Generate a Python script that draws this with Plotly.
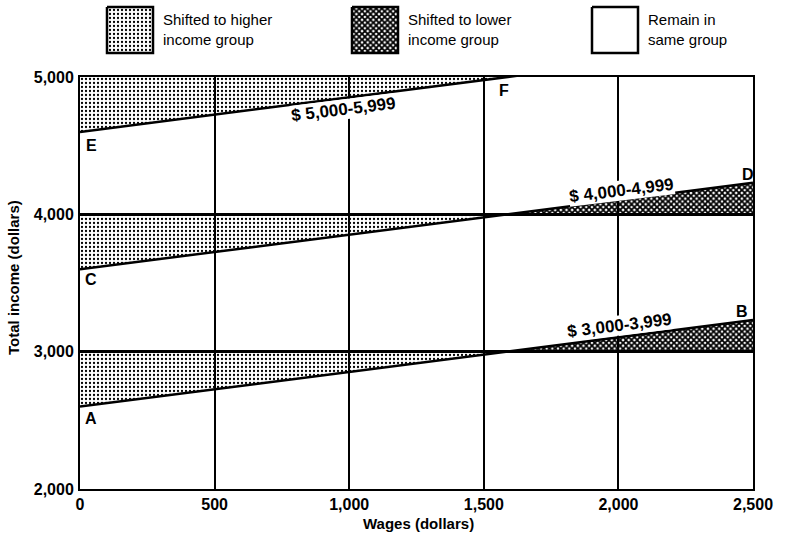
import plotly.graph_objects as go

# ---------------- data ----------------
wages = [0, 2500]                      # wage range (dollars)
group_floor = [3000, 4000, 5000]       # lower bound of each income group
income_at_zero_wage = [2600, 3600, 4600]   # points A, C, E
income_at_max_wage = [3230, 4230, 5230]    # points B, D, (beyond F)
group_labels = ["$ 3,000-3,999", "$ 4,000-4,999", "$ 5,000-5,999"]
start_letters = ["A", "C", "E"]
end_letters = ["B", "D", "F"]

x_ticks = [0, 500, 1000, 1500, 2000, 2500]
x_ticktext = ["0", "500", "1,000", "1,500", "2,000", "2,500"]
y_ticks = [2000, 3000, 4000, 5000]
y_ticktext = ["2,000", "3,000", "4,000", "5,000"]

legend_labels = ["Shifted to higher<br>income group",
                 "Shifted to lower<br>income group",
                 "Remain in<br>same group"]

# ---------------- styling / layout constants ----------------
W, H = 789, 536
FONT = "Liberation Sans"
Y_MIN, Y_MAX = 2000, 5000
X_MIN, X_MAX = 0, 2500

DOTS = dict(shape=".", size=4, solidity=0.25, fgcolor="black",
            bgcolor="rgba(0,0,0,0)", fillmode="replace")
HATCH = dict(shape="x", size=4, solidity=0.7, fgcolor="black",
             bgcolor="rgba(0,0,0,0)", fillmode="replace")

fig = go.Figure()

# shaded regions derived from the lines
for lo, y0, y1 in zip(group_floor, income_at_zero_wage, income_at_max_wage):
    slope = (y1 - y0) / (wages[1] - wages[0])
    xc = wages[0] + (lo - y0) / slope
    # dotted: line below the group floor -> shifted to higher group
    fig.add_trace(go.Scatter(
        x=[wages[0], wages[0], xc, wages[0]], y=[lo, y0, lo, lo],
        mode="none", fill="toself", fillcolor="rgba(0,0,0,0)",
        fillpattern=DOTS, hoverinfo="skip", showlegend=False))
    # cross-hatched: line above the group floor -> shifted to lower group
    if xc < wages[1] and lo < Y_MAX:
        fig.add_trace(go.Scatter(
            x=[xc, wages[1], wages[1], xc], y=[lo, y1, lo, lo],
            mode="none", fill="toself", fillcolor="rgba(0,0,0,0)",
            fillpattern=HATCH, hoverinfo="skip", showlegend=False))

# sloped lines
for y0, y1 in zip(income_at_zero_wage, income_at_max_wage):
    fig.add_trace(go.Scatter(x=wages, y=[y0, y1], mode="lines",
                             line=dict(color="black", width=2.5),
                             hoverinfo="skip", showlegend=False))

# ---------------- legend (custom swatches on a helper axis) ----------------
sw_left = [107, 352, 592]
sw_w, sw_top, sw_bot = 46, 7, 53
sw_patterns = [DOTS, HATCH, None]
for left, pat in zip(sw_left, sw_patterns):
    kw = dict(fillpattern=pat, fillcolor="rgba(0,0,0,0)") if pat else dict(fillcolor="white")
    fig.add_trace(go.Scatter(
        x=[left, left + sw_w, left + sw_w, left, left],
        y=[sw_top, sw_top, sw_bot, sw_bot, sw_top],
        mode="lines", fill="toself", line=dict(color="black", width=2.5),
        xaxis="x2", yaxis="y2", hoverinfo="skip", showlegend=False, **kw))

annotations = []
for left, txt in zip(sw_left, legend_labels):
    annotations.append(dict(x=(left + sw_w + 8) / W, y=1 - 30 / H, xref="paper", yref="paper",
                            text=txt, showarrow=False, xanchor="left", yanchor="middle",
                            align="left", font=dict(family=FONT, size=15, color="black")))

# group labels along the lines
label_pos = [(2003, 3194), (2011, 4177), (977, 4760)]
for (lx, ly), txt in zip(label_pos, group_labels):
    annotations.append(dict(x=lx, y=ly, xref="x", yref="y", text="<b>" + txt + "</b>",
                            showarrow=False, textangle=-7, bgcolor="white",
                            borderpad=0, xanchor="center", yanchor="middle",
                            font=dict(family=FONT, size=17, color="black")))

# point letters
letter_start_pos = [(41, 2517), (41, 3522), (41, 4501)]
letter_end_pos = [(2458, 3289), (2482, 4287), (1576, 4905)]
for (lx, ly), t in zip(letter_start_pos + letter_end_pos, start_letters + end_letters):
    annotations.append(dict(x=lx, y=ly, xref="x", yref="y", text="<b>" + t + "</b>",
                            showarrow=False, xanchor="center", yanchor="middle",
                            font=dict(family=FONT, size=16, color="black")))

# axis titles
annotations.append(dict(x=419 / W, y=1 - 523 / H, xref="paper", yref="paper",
                        text="<b>Wages (dollars)</b>", showarrow=False,
                        xanchor="center", yanchor="middle",
                        font=dict(family=FONT, size=15, color="black")))
annotations.append(dict(x=13 / W, y=1 - 278 / H, xref="paper", yref="paper",
                        text="<b>Total income (dollars)</b>", showarrow=False, textangle=-90,
                        xanchor="center", yanchor="middle",
                        font=dict(family=FONT, size=15, color="black")))

fig.update_layout(
    width=W, height=H, autosize=False,
    margin=dict(l=0, r=0, t=0, b=0, pad=0, autoexpand=False),
    paper_bgcolor="white", plot_bgcolor="white",
    showlegend=False,
    annotations=annotations,
    xaxis=dict(domain=[80 / W, 753 / W], range=[X_MIN, X_MAX], automargin=False,
               tickvals=x_ticks, ticktext=x_ticktext, ticks="",
               showgrid=True, gridcolor="black", gridwidth=1.5,
               showline=True, mirror=True, linecolor="black", linewidth=2,
               zeroline=False, ticklabelstandoff=0,
               tickfont=dict(family=FONT, size=16, color="black", weight="bold")),
    yaxis=dict(domain=[(H - 489) / H, (H - 77) / H], range=[Y_MIN, Y_MAX], automargin=False,
               tickvals=y_ticks, ticktext=y_ticktext, ticks="",
               showgrid=True, gridcolor="black", gridwidth=2.5,
               showline=True, mirror=True, linecolor="black", linewidth=2,
               zeroline=False, ticklabelstandoff=1,
               tickfont=dict(family=FONT, size=16, color="black", weight="bold")),
    xaxis2=dict(domain=[0, 1], range=[0, W], visible=False, anchor="y2", fixedrange=True,
                automargin=False),
    yaxis2=dict(domain=[(H - 60) / H, 1], range=[60, 0], visible=False, anchor="x2",
                fixedrange=True, automargin=False),
)

fig.write_html("out.html", config={"displayModeBar": False},
               post_script="document.body.style.margin='0';document.body.style.overflow='hidden';")
